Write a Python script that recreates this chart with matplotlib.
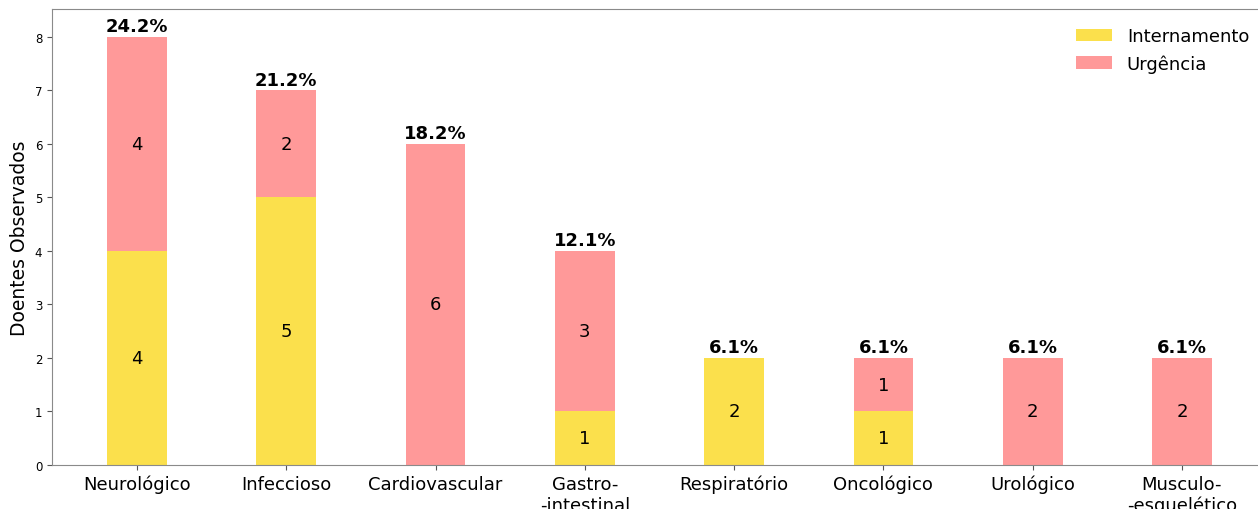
import matplotlib
matplotlib.use('Agg')
import matplotlib.pyplot as plt
import numpy as np

categorias = ['Neurológico', 'Infeccioso', 'Cardiovascular', 'Gastro-\n-intestinal',
              'Respiratório', 'Oncológico', 'Urológico', 'Musculo-\n-esquelético']
internamento = [4, 5, 0, 1, 2, 1, 0, 0]
urgencia = [4, 2, 6, 3, 0, 1, 2, 2]

cor_int = '#FBE04C'
cor_urg = '#FF9999'

fig = plt.figure(figsize=(12.58, 5.1), dpi=100)
ax = fig.add_axes([52 / 1258, 44 / 510, 1215 / 1258, 456 / 510])

x = np.arange(len(categorias))
internamento = np.array(internamento)
urgencia = np.array(urgencia)
total = internamento + urgencia

ax.bar(x, internamento, width=0.4, color=cor_int, label='Internamento')
ax.bar(x, urgencia, width=0.4, bottom=internamento, color=cor_urg, label='Urgência')

# valores dentro das barras + percentagem no topo
for i in range(len(x)):
    if internamento[i] > 0:
        ax.text(x[i], internamento[i] / 2, str(internamento[i]), ha='center', va='center', fontsize=13)
    if urgencia[i] > 0:
        ax.text(x[i], internamento[i] + urgencia[i] / 2, str(urgencia[i]), ha='center', va='center', fontsize=13)
    pct = 100 * total[i] / total.sum()
    ax.text(x[i], total[i] + 0.03, f'{pct:.1f}%', ha='center', va='bottom', fontsize=13, fontweight='bold')

ax.set_xticks(x)
ax.set_xticklabels(categorias, fontsize=13)
ax.tick_params(axis='y', labelsize=8.5)
ax.set_ylabel('Doentes Observados', fontsize=13.5)
ax.set_xlim(-0.57, 7.57)
ax.set_ylim(0, 8.52)

for s in ax.spines.values():
    s.set_color('#8a8a8a')
ax.spines['right'].set_visible(False)
ax.tick_params(colors='#555555', labelcolor='black')

ax.legend(loc='upper left', bbox_to_anchor=(1060 / 1258, 1 - 12 / 510), bbox_transform=fig.transFigure,
          frameon=False, fontsize=13)

fig.savefig('out.png', dpi=100)
